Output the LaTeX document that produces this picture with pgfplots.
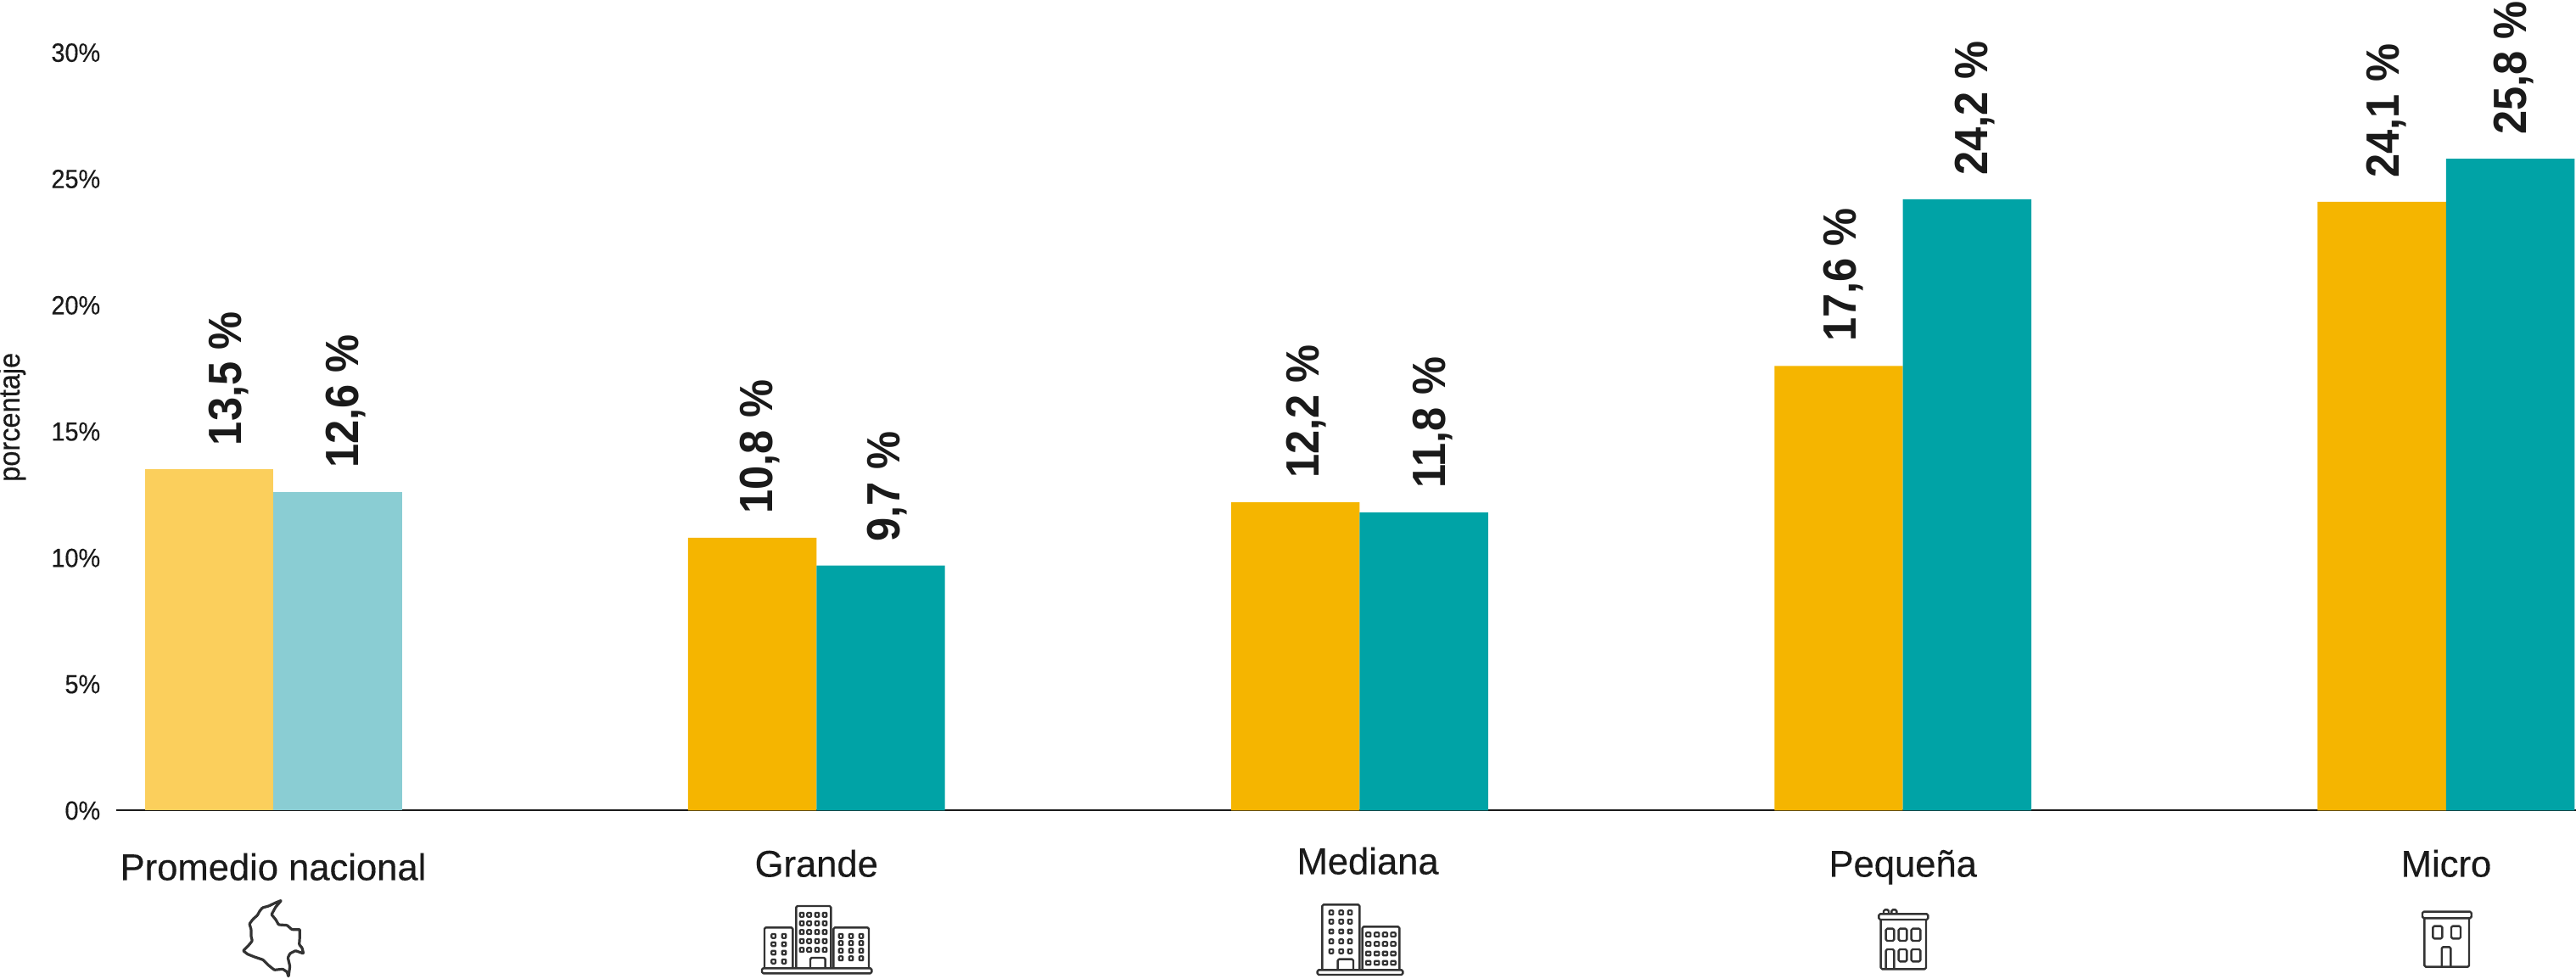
\documentclass[border=0pt]{standalone}
\usepackage{fontspec}
\setmainfont{Liberation Sans}[FakeStretch=0.92]
\newfontfamily\medfont{Liberation Sans}[FakeStretch=0.93,FakeBold=0.3]
\newfontfamily\catfont{Liberation Sans}[FakeStretch=0.99,FakeBold=0.3]
\usepackage{pgfplots}
\pgfplotsset{compat=1.18}
\usepackage{pgfplotstable}

\definecolor{amarillo}{HTML}{F5B500}
\definecolor{verde}{HTML}{00A3A6}
\definecolor{amarilloclaro}{HTML}{FBCF5C}
\definecolor{verdeclaro}{HTML}{8ACDD3}
\definecolor{texto}{HTML}{1A1A1A}
\definecolor{icono}{HTML}{333333}

% dx = sideways offset of the value label from the group centre, in reference pixels
\pgfplotstableread{
x y dx
0 13.5 -57.75
}\promA
\pgfplotstableread{
x y dx
0 12.6 80.75
}\promB
\pgfplotstableread{
x y dx
1 10.8 -71.75
2 12.2 -67.75
3 17.6 -74.75
4 24.1 -75.75
}\serieA
\pgfplotstableread{
x y dx
1 9.7 77.75
2 11.8 80.75
3 24.2 79.75
4 25.8 74.75
}\serieB

% icon coordinates are in 1/3 reference pixels from the given corner
\tikzset{
  icon at/.style 2 args={shift={({#1*0.5pt},{577pt-#2*0.5pt})},x=0.16667pt,y=-0.16667pt,
    draw=icono,line width=1.2pt,line join=round,rounded corners=0.8pt},
  win/.style={line width=1.1pt,rounded corners=0.4pt}
}
\newcommand{\win}[3]{\draw[win] ({#1-#3},{#2-7}) rectangle ({#1+#3},{#2+7});}

\begin{document}
\begin{tikzpicture}
\useasboundingbox (0,0) rectangle (1518pt,577pt);
\begin{axis}[
    at={(68.5pt,99.25pt)},
    anchor=south west,
    scale only axis,
    width=1449.5pt,
    height=446.7pt,
    xmin=-0.289, xmax=4.239,
    ymin=0, ymax=30,
    axis x line*=bottom,
    axis y line*=left,
    y axis line style={draw=none},
    x axis line style={-,draw=texto,line width=1pt},
    tick style={draw=none},
    major tick length=0pt,
    ytick={0,5,10,15,20,25,30},
    yticklabel={\pgfmathprintnumber{\tick}\%},
    yticklabel style={anchor=east,inner sep=0pt,xshift=-9.2pt,text=texto,
        font=\fontsize{15.5}{18}\medfont,/pgf/number format/assume math mode=true},
    xtick={0,1,2,3,4},
    xticklabels={{\raisebox{-2pt}{Promedio nacional}},Grande,
        {\hspace*{9.6pt}\raisebox{1.5pt}{Mediana}},Pequeña,Micro},
    xticklabel style={anchor=base,inner sep=0pt,yshift=-39pt,text=texto,
        font=\fontsize{22}{26}\catfont},
    ylabel={porcentaje},
    every axis y label/.style={at={(axis description cs:0,0.519)},xshift=-57pt,rotate=90,
        anchor=base,text=texto,font=\fontsize{17.5}{20}\medfont},
    bar width=0.2366,
    visualization depends on={\thisrow{dx} \as \dx},
    nodes near coords={\pgfmathprintnumber[use comma,fixed,fixed zerofill,precision=1]{\pgfplotspointmeta} \%},
    every node near coord/.append style={xshift={(20+\dx)*0.5pt},yshift=14pt,rotate=90,
        anchor=base west,inner sep=0pt,text=texto,
        font=\fontsize{27.5}{30}\selectfont\bfseries,
        /pgf/number format/assume math mode=true},
]
\addplot[ybar,bar shift=-0.1183,fill=amarilloclaro,draw=none] table[x=x,y=y] {\promA};
\addplot[ybar,bar shift=0.1183,fill=verdeclaro,draw=none] table[x=x,y=y] {\promB};
\addplot[ybar,bar shift=-0.1183,fill=amarillo,draw=none] table[x=x,y=y] {\serieA};
\addplot[ybar,bar shift=0.1183,fill=verde,draw=none] table[x=x,y=y] {\serieB};
\end{axis}

% Colombia
\begin{scope}[icon at={270}{1054},rounded corners=0.4pt,line width=1.6pt]
\draw (185,22)--(165,30)--(140,42)--(118,48)--(108,60)--(100,75)--(85,88)--(72,105)--(78,125)--(78,150)
  --(82,165)--(70,180)--(50,200)--(65,212)--(90,222)--(120,232)--(140,252)--(160,268)--(190,265)--(205,275)
  --(210,292)--(215,255)--(208,225)--(215,210)--(235,200)--(263,210)--(258,190)--(248,178)--(250,150)
  --(250,125)--(222,125)--(205,110)--(175,108)--(165,90)--(150,72)--(165,45)--cycle;
\end{scope}

% Grande
\begin{scope}[icon at={890}{1054}]
\draw (145,262)--(145,42)--(268,42)--(268,262);
\draw (33,262)--(33,118)--(133,118)--(133,262);
\draw (277,262)--(277,118)--(402,118)--(402,262);
\draw (24,262) rectangle (412,280);
\draw (195,260)--(195,225)--(248,225)--(248,260);
\foreach \cx in {165,191,219,246} \foreach \cy in {73,103,134,166,197} {\win{\cx}{\cy}{7}}
\foreach \cx in {65,102} \foreach \cy in {148,177,207,238} {\win{\cx}{\cy}{7}}
\foreach \cx in {303,339,375} \foreach \cy in {148,173,200,227} {\win{\cx}{\cy}{7}}
\end{scope}

% Mediana
\begin{scope}[icon at={1540}{1054}]
\draw (55,268)--(55,37)--(187,37)--(187,268);
\draw (197,268)--(197,115)--(328,115)--(328,268);
\draw (38,268) rectangle (340,285);
\draw (110,265)--(110,230)--(165,230)--(165,265);
\foreach \cx in {87,122,153} \foreach \cy in {65,97,132,167,202} {\win{\cx}{\cy}{7}}
\foreach \cx in {218,248,277,306} \foreach \cy in {143,176,210,243} {\win{\cx}{\cy}{8}}
\end{scope}

% Pequeña
\begin{scope}[icon at={2200}{1054}]
\draw (43,70) rectangle (217,90);
\draw (50,90)--(50,265)--(210,265)--(210,90);
\draw (60,68)--(60,55)--(78,55)--(78,68);
\draw (88,68)--(88,55)--(106,55)--(106,68);
\draw (68,122) rectangle (97,165);
\draw (113,122) rectangle (142,165);
\draw (158,122) rectangle (190,165);
\draw (113,195) rectangle (142,238);
\draw (158,195) rectangle (190,238);
\draw (68,265)--(68,195)--(97,195)--(97,265);
\end{scope}

% Micro
\begin{scope}[icon at={2840}{1054}]
\draw (45,62) rectangle (218,85);
\draw (52,85)--(52,257)--(210,257)--(210,85);
\draw (82,113) rectangle (115,157);
\draw (147,113) rectangle (180,157);
\draw (113,257)--(113,187)--(145,187)--(145,257);
\end{scope}
\end{tikzpicture}
\end{document}
